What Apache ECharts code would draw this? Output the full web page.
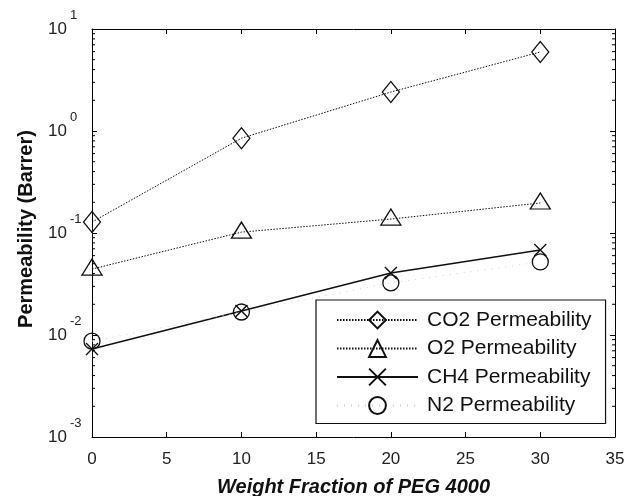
<!DOCTYPE html>
<html><head><meta charset="utf-8">
<script src="https://cdn.jsdelivr.net/npm/echarts@6/dist/echarts.min.js"></script>
<style>html,body{margin:0;padding:0;background:#fff}#c{width:633px;height:496px}</style>
</head><body><div id="c"></div>
<script>
var xValues = [0, 10, 20, 30];
var co2 = [0.128, 0.85, 2.41, 5.95];
var o2 = [0.0443, 0.102, 0.137, 0.197];
var ch4 = [0.0073, 0.0172, 0.0405, 0.068];
var n2 = [0.0087, 0.0168, 0.0324, 0.052];
var seriesNames = ['CO2 Permeability', 'O2 Permeability', 'CH4 Permeability', 'N2 Permeability'];
var xTicks = [0, 5, 10, 15, 20, 25, 30, 35];
var yDecades = [0.001, 0.01, 0.1, 1, 10];

function pairs(ys) { return xValues.map(function (x, i) { return [x, ys[i]]; }); }
var minorVals = [];
for (var d = 0; d < yDecades.length - 1; d++) {
  for (var m = 2; m <= 9; m++) minorVals.push([m * yDecades[d]]);
}
var FONT = '"Liberation Sans", Arial, sans-serif';
var chart = echarts.init(document.getElementById('c'), null, {renderer: 'canvas'});
var axisLine = {show: true, onZero: false, lineStyle: {color: '#000', width: 1}};
var markerStyle = {color: 'transparent', borderColor: '#111', borderWidth: 1.3};
chart.setOption({
  animation: false,
  backgroundColor: '#fff',
  grid: {left: 92, right: 18, top: 29, bottom: 59, containLabel: false, outerBoundsMode: 'none'},
  xAxis: [{
    type: 'value', min: 0, max: 35, interval: 5, position: 'bottom',
    axisLine: axisLine,
    axisTick: {inside: true, length: 5, lineStyle: {color: '#000'}},
    axisLabel: {color: '#222', fontSize: 17, fontFamily: FONT, margin: 14},
    splitLine: {show: false},
    name: 'Weight Fraction of PEG 4000', nameLocation: 'middle', nameGap: 40,
    nameTextStyle: {fontSize: 20, fontWeight: 'bold', fontStyle: 'italic', color: '#111', fontFamily: FONT}
  }, {
    type: 'value', min: 0, max: 35, interval: 5, position: 'top',
    axisLine: axisLine,
    axisTick: {inside: true, length: 5, lineStyle: {color: '#000'}},
    axisLabel: {show: false}, splitLine: {show: false}
  }],
  yAxis: [{
    type: 'log', logBase: 10, min: 0.001, max: 10, interval: 1, position: 'left',
    axisLine: axisLine,
    axisTick: {inside: true, length: 5, lineStyle: {color: '#000'}},
    axisLabel: {
      margin: 44, align: 'left', fontFamily: FONT,
      formatter: function (v) { return '{b|10}{s|' + Math.round(Math.log10(v)) + '}'; },
      rich: {
        b: {fontSize: 17, color: '#222', fontFamily: FONT, verticalAlign: 'middle', lineHeight: 40},
        s: {fontSize: 13, color: '#222', fontFamily: FONT, verticalAlign: 'top', lineHeight: 15, padding: [0, 0, 0, 3]}
      }
    },
    splitLine: {show: false},
    name: 'Permeability (Barrer)', nameLocation: 'middle', nameGap: 56,
    nameTextStyle: {fontSize: 20, fontWeight: 'bold', color: '#111', fontFamily: FONT, padding: [0, 0, 0, 8]}
  }, {
    type: 'log', logBase: 10, min: 0.001, max: 10, interval: 1, position: 'right',
    axisLine: axisLine,
    axisTick: {inside: true, length: 5, lineStyle: {color: '#000'}},
    axisLabel: {show: false}, splitLine: {show: false}
  }],
  legend: {
    data: seriesNames, orient: 'vertical', left: 316, top: 300,
    padding: [9.5, 14, 7.5, 20], itemWidth: 81, itemHeight: 21, itemGap: 7.5,
    borderColor: '#111', borderWidth: 1.2, backgroundColor: '#fff',
    textStyle: {fontSize: 21, lineHeight: 21, color: '#111', fontFamily: FONT, padding: [0, 0, 0, 4]},
    selectedMode: false
  },
  series: [{
    name: seriesNames[0], type: 'line', data: pairs(co2),
    symbol: 'diamond', symbolSize: [17, 21],
    lineStyle: {color: '#111', width: 1, type: [1.5, 1.5]}, itemStyle: markerStyle, z: 3
  }, {
    name: seriesNames[1], type: 'line', data: pairs(o2),
    symbol: 'triangle', symbolSize: [20, 16], symbolOffset: [0, -2],
    lineStyle: {color: '#111', width: 1, type: [1.5, 1.5]}, itemStyle: markerStyle, z: 3
  }, {
    name: seriesNames[2], type: 'line', data: pairs(ch4),
    symbol: 'path://M0,0L10,10M10,0L0,10', symbolSize: 12,
    lineStyle: {color: '#111', width: 1.5, type: 'solid'}, itemStyle: {color: 'transparent', borderColor: '#111', borderWidth: 1.4}, z: 3
  }, {
    name: seriesNames[3], type: 'line', data: pairs(n2),
    symbol: 'circle', symbolSize: 16,
    lineStyle: {color: '#d0d0d0', width: 1, type: [1, 6]}, itemStyle: markerStyle, z: 3
  }, {
    type: 'custom', data: minorVals, silent: true, clip: false, z: 5,
    renderItem: function (params, api) {
      var v = api.value(0);
      var pl = api.coord([0, v]);
      var pr = api.coord([35, v]);
      return {type: 'group', children: [
        {type: 'line', shape: {x1: pl[0], y1: pl[1], x2: pl[0] + 3, y2: pl[1]}, style: {stroke: '#000', lineWidth: 1}},
        {type: 'line', shape: {x1: pr[0] - 3, y1: pr[1], x2: pr[0], y2: pr[1]}, style: {stroke: '#000', lineWidth: 1}}
      ]};
    },
    encode: {y: 0}
  }]
});
</script></body></html>
